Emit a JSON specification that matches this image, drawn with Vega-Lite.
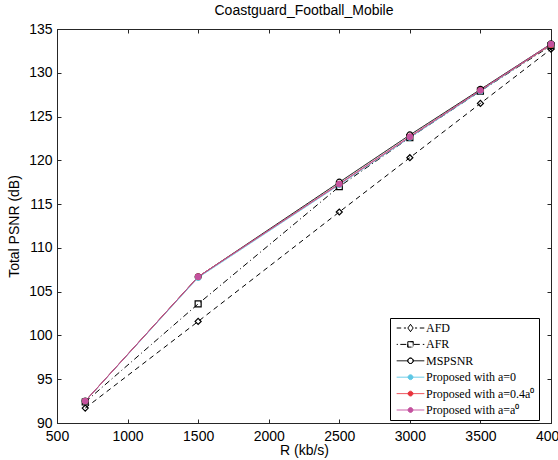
{
  "$schema": "https://vega.github.io/schema/vega-lite/v6.json",
  "width": 494,
  "height": 394,
  "autosize": {"type": "none"},
  "padding": {"left": 57, "top": 29, "right": 7, "bottom": 37},
  "background": "white",
  "title": {"text": "Coastguard_Football_Mobile", "font": "Liberation Sans", "fontSize": 14, "fontWeight": "normal", "color": "#000", "anchor": "middle", "baseline": "alphabetic", "offset": -7},
  "config": {
    "view": {"stroke": "#262626", "strokeWidth": 1},
    "axis": {"labelFont": "Liberation Sans", "labelFontSize": 14, "labelColor": "#000", "titleFont": "Liberation Sans", "titleFontSize": 14, "titleFontWeight": "normal", "titleColor": "#000", "domainColor": "#262626", "tickColor": "#262626", "grid": false, "tickSize": -4, "labelFlush": false, "labelOverlap": false}
  },
  "data": {"values": [
    {"series": "AFD", "R": 700, "psnr": 91.7},
    {"series": "AFD", "R": 1500, "psnr": 101.6},
    {"series": "AFD", "R": 2500, "psnr": 114.1},
    {"series": "AFD", "R": 3000, "psnr": 120.3},
    {"series": "AFD", "R": 3500, "psnr": 126.5},
    {"series": "AFD", "R": 4000, "psnr": 132.7},
    {"series": "AFR", "R": 700, "psnr": 92.4},
    {"series": "AFR", "R": 1500, "psnr": 103.6},
    {"series": "AFR", "R": 2500, "psnr": 117.0},
    {"series": "AFR", "R": 3000, "psnr": 122.6},
    {"series": "AFR", "R": 3500, "psnr": 127.9},
    {"series": "AFR", "R": 4000, "psnr": 133.1},
    {"series": "MSPSNR", "R": 700, "psnr": 92.5},
    {"series": "MSPSNR", "R": 1500, "psnr": 106.7},
    {"series": "MSPSNR", "R": 2500, "psnr": 117.5},
    {"series": "MSPSNR", "R": 3000, "psnr": 122.9},
    {"series": "MSPSNR", "R": 3500, "psnr": 128.1},
    {"series": "MSPSNR", "R": 4000, "psnr": 133.3},
    {"series": "Proposed with a=0", "R": 700, "psnr": 92.5},
    {"series": "Proposed with a=0", "R": 1500, "psnr": 106.6},
    {"series": "Proposed with a=0", "R": 2500, "psnr": 117.2},
    {"series": "Proposed with a=0", "R": 3000, "psnr": 122.6},
    {"series": "Proposed with a=0", "R": 3500, "psnr": 127.9},
    {"series": "Proposed with a=0", "R": 4000, "psnr": 133.2},
    {"series": "Proposed with a=0.4a⁰", "R": 700, "psnr": 92.5},
    {"series": "Proposed with a=0.4a⁰", "R": 1500, "psnr": 106.7},
    {"series": "Proposed with a=0.4a⁰", "R": 2500, "psnr": 117.3},
    {"series": "Proposed with a=0.4a⁰", "R": 3000, "psnr": 122.7},
    {"series": "Proposed with a=0.4a⁰", "R": 3500, "psnr": 128.0},
    {"series": "Proposed with a=0.4a⁰", "R": 4000, "psnr": 133.2},
    {"series": "Proposed with a=a⁰", "R": 700, "psnr": 92.5},
    {"series": "Proposed with a=a⁰", "R": 1500, "psnr": 106.7},
    {"series": "Proposed with a=a⁰", "R": 2500, "psnr": 117.3},
    {"series": "Proposed with a=a⁰", "R": 3000, "psnr": 122.7},
    {"series": "Proposed with a=a⁰", "R": 3500, "psnr": 128.0},
    {"series": "Proposed with a=a⁰", "R": 4000, "psnr": 133.3}
  ]},
  "resolve": {"axis": {"x": "independent", "y": "independent"}},
  "layer": [
    {
      "mark": {"type": "line"},
      "encoding": {
        "x": {"field": "R", "type": "quantitative", "scale": {"domain": [500, 4000], "nice": false, "zero": false}, "axis": {"orient": "bottom", "values": [500, 1000, 1500, 2000, 2500, 3000, 3500, 4000], "format": "d", "title": "R (kb/s)", "labelPadding": 10, "titlePadding": 0}},
        "y": {"field": "psnr", "type": "quantitative", "scale": {"domain": [90, 135], "nice": false, "zero": false}, "axis": {"orient": "left", "values": [90, 95, 100, 105, 110, 115, 120, 125, 130, 135], "format": "d", "title": "Total PSNR (dB)", "labelPadding": 9, "titlePadding": 7}},
        "color": {
          "field": "series", "type": "nominal",
          "scale": {"domain": ["AFD", "AFR", "MSPSNR", "Proposed with a=0", "Proposed with a=0.4a⁰", "Proposed with a=a⁰"], "range": ["#000000", "#000000", "#000000", "#5ec8e5", "#e8333c", "#c4519f"]},
          "legend": {
            "orient": "none", "legendX": 333, "legendY": 289, "title": null,
            "labelFont": "Liberation Serif", "labelFontSize": 12, "labelColor": "#000", "labelLimit": 200,
            "strokeColor": "#000", "fillColor": "#fff", "padding": 4, "rowPadding": 4.4,
            "symbolSize": 36, "symbolOffset": 10.5, "labelOffset": 9.5,
            "encode": {"symbols": {"update": {
              "shape": {"signal": "datum.value === 'AFD' ? 'M-4.6,0H-3.1M-2.2,0H-1.5M-0.9,0L0,-1.2L0.9,0L0,1.2ZM-0.9,0L0,1.2L0.9,0L0,-1.2ZM1.5,0H2.2M3.1,0H4.6' : datum.value === 'AFR' ? 'M-4.6,0H-4.2M-3.4,0H-1.1M-0.9,-0.9H0.9V0.9H-0.9ZM-0.9,-0.9V0.9H0.9V-0.9ZM1.1,0H3.3M4.1,0H4.6' : datum.value === 'MSPSNR' ? 'M-4.6,0H-0.9M0.9,0H4.6M0.9,0A0.9,0.9 0 1,1 -0.9,0A0.9,0.9 0 1,1 0.9,0M0.9,0A0.9,0.9 0 1,0 -0.9,0A0.9,0.9 0 1,0 0.9,0' : 'M-4.6,0H4.6M0.8,0A0.8,0.8 0 1,1 -0.8,0A0.8,0.8 0 1,1 0.8,0'"},
              "fill": {"signal": "scale('color', datum.value)"},
              "stroke": {"signal": "scale('color', datum.value)"},
              "strokeWidth": {"value": 1.2},
              "strokeDash": {"value": []},
              "opacity": {"value": 1}
            }}}
          }
        },
        "strokeDash": {"field": "series", "type": "nominal", "legend": null, "scale": {"domain": ["AFD", "AFR", "MSPSNR", "Proposed with a=0", "Proposed with a=0.4a⁰", "Proposed with a=a⁰"], "range": [[5, 4], [6, 3, 1, 3], [1, 0], [1, 0], [1, 0], [1, 0]]}},
        "strokeWidth": {"field": "series", "type": "nominal", "legend": null, "scale": {"domain": ["AFD", "AFR", "MSPSNR", "Proposed with a=0", "Proposed with a=0.4a⁰", "Proposed with a=a⁰"], "range": [1, 1, 1.2, 1.8, 1.8, 1.8]}}
      }
    },
    {
      "transform": [{"filter": "indexof(datum.series, 'Proposed') < 0"}],
      "mark": {"type": "point", "filled": false, "strokeWidth": 1.2, "opacity": 1},
      "encoding": {
        "x": {"field": "R", "type": "quantitative", "axis": null},
        "y": {"field": "psnr", "type": "quantitative", "axis": null},
        "color": {"field": "series", "type": "nominal", "legend": null},
        "shape": {"field": "series", "type": "nominal", "legend": null, "scale": {"domain": ["AFD", "AFR", "MSPSNR"], "range": ["diamond", "square", "circle"]}},
        "size": {"value": 36}
      }
    },
    {
      "transform": [{"filter": "indexof(datum.series, 'Proposed') === 0"}],
      "mark": {"type": "circle", "opacity": 1, "size": 40},
      "encoding": {
        "x": {"field": "R", "type": "quantitative", "axis": null},
        "y": {"field": "psnr", "type": "quantitative", "axis": null},
        "color": {"field": "series", "type": "nominal", "legend": null}
      }
    },
    {
      "mark": {"type": "point", "opacity": 0},
      "encoding": {
        "x": {"field": "R", "type": "quantitative", "axis": {"orient": "top", "values": [500, 1000, 1500, 2000, 2500, 3000, 3500, 4000], "labels": false, "title": null, "domain": false}},
        "y": {"field": "psnr", "type": "quantitative", "axis": {"orient": "right", "values": [90, 95, 100, 105, 110, 115, 120, 125, 130, 135], "labels": false, "title": null, "domain": false}}
      }
    }
  ]
}
